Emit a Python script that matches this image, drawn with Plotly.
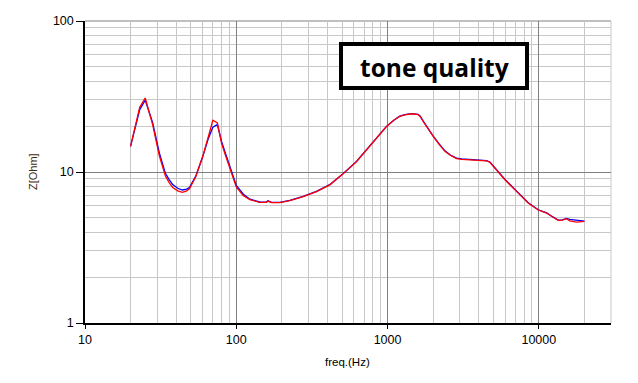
import plotly.graph_objects as go

freq = [20, 23, 25, 28, 31, 34, 36, 38, 41, 44, 47, 49, 54, 60, 65, 70, 75, 80,
        85, 90, 100, 111, 123, 143, 158, 162, 171, 194, 226, 277, 339, 415, 508,
        623, 764, 984, 1100, 1205, 1300, 1441, 1593, 1650, 1721, 1850, 2004,
        2200, 2395, 2600, 2860, 3100, 3681, 4200, 4515, 4747, 5000, 5258, 5975,
        7135, 8510, 9910, 11270, 12300, 13430, 14300, 15270, 16000, 17800, 20000]

z_blue = [14.8, 25.9, 29.9, 21.2, 13.4, 9.8, 8.9, 8.25, 7.8, 7.6, 7.7, 7.9,
          9.4, 12.6, 16.4, 19.8, 20.6, 15.9, 13.2, 11.2, 8.15, 7.15, 6.6, 6.33,
          6.32, 6.44, 6.3, 6.3, 6.49, 6.89, 7.44, 8.24, 9.75, 11.75, 14.85,
          20.05, 22.05, 23.45, 23.95, 24.35, 24.05, 23.3, 21.7, 19.4, 17.3,
          15.3, 13.8, 12.95, 12.35, 12.2, 12.1, 12.05, 11.9, 11.65, 10.95,
          10.25, 8.92, 7.46, 6.25, 5.62, 5.36, 5.06, 4.8, 4.82, 4.93, 4.85,
          4.78, 4.73]

z_red = [14.8, 26.8, 30.9, 20.6, 12.8, 9.4, 8.5, 7.9, 7.5, 7.33, 7.5, 7.75,
         9.3, 12.7, 16.8, 22.0, 21.1, 15.4, 12.8, 10.9, 7.95, 7.0, 6.55, 6.3,
         6.3, 6.42, 6.27, 6.27, 6.47, 6.87, 7.42, 8.22, 9.72, 11.7, 14.8, 20.0,
         22.0, 23.4, 23.9, 24.3, 24.0, 23.2, 21.6, 19.3, 17.2, 15.2, 13.7,
         12.9, 12.25, 12.12, 12.02, 12.0, 11.85, 11.6, 10.9, 10.2, 8.89, 7.44,
         6.23, 5.6, 5.35, 5.05, 4.78, 4.8, 4.91, 4.75, 4.66, 4.71]

x_major = [10, 100, 1000, 10000]
x_major_labels = ["10", "100", "1000", "10000"]
x_minor = [m * d for d in (10, 100, 1000) for m in range(2, 10)] + [20000, 30000]
y_major = [1, 10, 100]
y_major_labels = ["1", "10", "100"]
y_minor = [m * d for d in (1, 10) for m in range(2, 10)]

fig = go.Figure()
fig.add_trace(go.Scatter(x=freq, y=z_blue, mode="lines",
                         line=dict(color="#0000ff", width=1.3), showlegend=False))
fig.add_trace(go.Scatter(x=freq, y=z_red, mode="lines",
                         line=dict(color="#ff0000", width=1.3), showlegend=False))

tickfont = dict(family="Liberation Sans, Arial, sans-serif", size=12.5, color="#000000")

fig.update_xaxes(type="log", range=[1, 4.4771], tickmode="array",
                 tickvals=x_major, ticktext=x_major_labels, automargin=False,
                 showgrid=True, gridcolor="#808080", gridwidth=1,
                 showline=True, linecolor="#000000", linewidth=1.5,
                 ticks="outside", ticklen=4, tickcolor="#000000",
                 tickfont=tickfont, zeroline=False,
                 minor=dict(tickvals=x_minor, showgrid=True, gridcolor="#c8c8c8",
                            gridwidth=1, ticks=""))
fig.update_yaxes(type="log", range=[0, 2], tickmode="array",
                 tickvals=y_major, ticktext=y_major_labels, automargin=False,
                 showgrid=True, gridcolor="#808080", gridwidth=1,
                 showline=True, linecolor="#000000", linewidth=1.5,
                 ticks="outside", ticklen=7, tickcolor="#000000",
                 tickfont=tickfont, zeroline=False,
                 minor=dict(tickvals=y_minor, showgrid=True, gridcolor="#c8c8c8",
                            gridwidth=1, ticks=""))

# page body has an 8px default margin; compensate so the plot lands where
# the reference plot is (x 85..611, y 21..323 in the screenshot)
OFF = 8
SX0, SX1, SY0, SY1 = 85, 611, 21, 323
W, H = 638 - OFF, 383 - OFF
L, T = SX0 - OFF, SY0 - OFF
R, B = 638 - SX1, 383 - SY1


def px(sx):
    return (sx - SX0) / (SX1 - SX0)


def py(sy):
    return (SY1 - sy) / (SY1 - SY0)


shapes = [
    dict(type="line", xref="paper", yref="paper", x0=0, x1=1, y0=1, y1=1,
         line=dict(color="#808080", width=1), layer="below"),
    dict(type="line", xref="paper", yref="paper", x0=1, x1=1, y0=0, y1=1,
         line=dict(color="#c8c8c8", width=1), layer="below"),
    dict(type="rect", xref="paper", yref="paper",
         x0=px(341), x1=px(527), y0=py(88), y1=py(44),
         line=dict(color="#000000", width=4), fillcolor="#ffffff", layer="above"),
]

annotations = [
    dict(text="<b>tone quality</b>", xref="paper", yref="paper",
         x=px(434.5), y=py(67), xanchor="center", yanchor="middle",
         showarrow=False,
         font=dict(family="Open Sans, Noto Sans, sans-serif", size=24.5, color="#000000")),
    dict(text="freq.(Hz)", xref="paper", yref="paper",
         x=px(347.5), y=py(361.5), xanchor="center", yanchor="middle",
         showarrow=False,
         font=dict(family="Liberation Sans, Arial, sans-serif", size=11.5, color="#000000")),
    dict(text="Z[Ohm]", xref="paper", yref="paper",
         x=px(33), y=py(172), xanchor="center", yanchor="middle", textangle=-90,
         showarrow=False,
         font=dict(family="Liberation Sans, Arial, sans-serif", size=11, color="#3a2a10")),
]

fig.update_layout(width=W, height=H, margin=dict(l=L, r=R, t=T, b=B, pad=0),
                  paper_bgcolor="#ffffff", plot_bgcolor="#ffffff",
                  shapes=shapes, annotations=annotations, showlegend=False)

fig.write_html("out.html")
